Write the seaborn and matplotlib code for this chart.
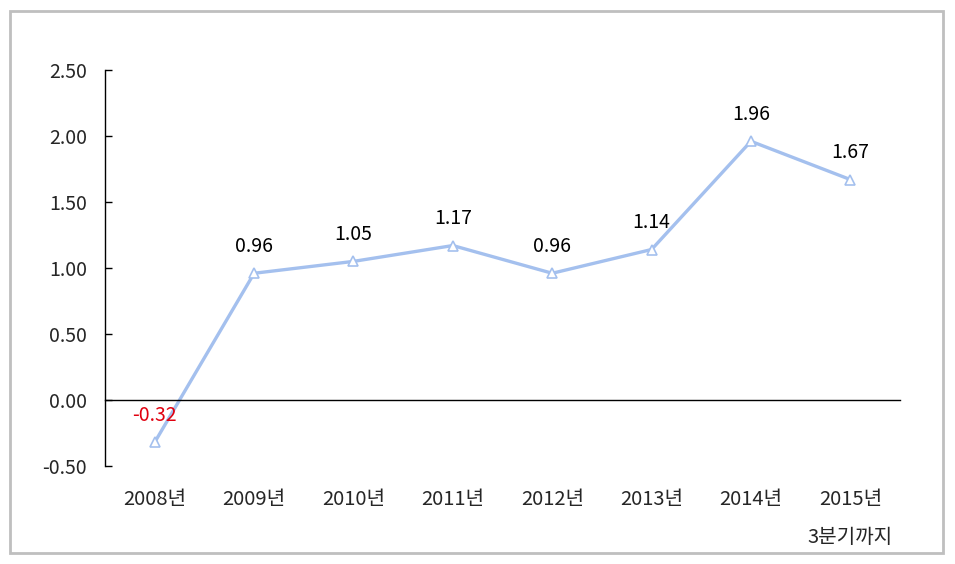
import pandas as pd
import seaborn as sns
import matplotlib.pyplot as plt
from matplotlib.patches import Rectangle
from matplotlib.ticker import FixedLocator

# data
years = ["2008년", "2009년", "2010년", "2011년", "2012년", "2013년", "2014년", "2015년\n3분기까지"]
values = [-0.32, 0.96, 1.05, 1.17, 0.96, 1.14, 1.96, 1.67]
yticks = [-0.5, 0.0, 0.5, 1.0, 1.5, 2.0, 2.5]

df = pd.DataFrame({"year": years, "value": values})

sns.set_style("white")
plt.rcParams['font.family'] = ['Noto Sans CJK KR', 'DejaVu Sans']

line_color = "#a4c0ee"

fig = plt.figure(figsize=(9.55, 5.64), dpi=100)
ax = fig.add_axes([0.11, 0.1738, 0.8324, 0.7021])

sns.lineplot(data=df, x="year", y="value", sort=False, ax=ax,
             color=line_color, linewidth=2.4,
             marker="^", markersize=7, markerfacecolor="white",
             markeredgecolor=line_color, markeredgewidth=1.2)

# value labels above points
for i, v in enumerate(values):
    ax.annotate(f"{v:.2f}", (i, v), xytext=(0, 12), textcoords="offset points",
                ha="center", va="bottom", fontsize=14,
                color="#e0000f" if v < 0 else "black")

ax.set_xlim(-0.5, 7.5)
ax.set_ylim(-0.5, 2.5)
ax.set_yticks(yticks)
ax.set_yticklabels([f"{t:.2f}" for t in yticks])
ax.set_xlabel("")
ax.set_ylabel("")

# x axis sits at zero, labels pushed down below the plot
for s in ["top", "right"]:
    ax.spines[s].set_visible(False)
ax.spines["bottom"].set_position(("data", 0))
ax.spines["bottom"].set_color("black")
ax.spines["left"].set_color("black")
ax.spines["bottom"].set_linewidth(1)
ax.spines["left"].set_linewidth(1)

ax.xaxis.set_minor_locator(FixedLocator([i - 0.5 for i in range(len(years) + 1)]))
ax.tick_params(axis="x", which="major", length=0, pad=64, labelsize=14.5)
ax.tick_params(axis="x", which="minor", length=5, direction="in", color="black", width=1)
ax.tick_params(axis="y", which="major", length=5, direction="in", color="black",
               width=1, pad=13, labelsize=14, left=True)
for lab in ax.get_xticklabels():
    lab.set_linespacing(2.05)

# outer frame
fig.patches.append(Rectangle((10 / 955, 11 / 564), 933 / 955, 542 / 564,
                             transform=fig.transFigure, fill=False,
                             edgecolor="#bfbfbf", linewidth=2))

plt.savefig("out.png", dpi=100)
